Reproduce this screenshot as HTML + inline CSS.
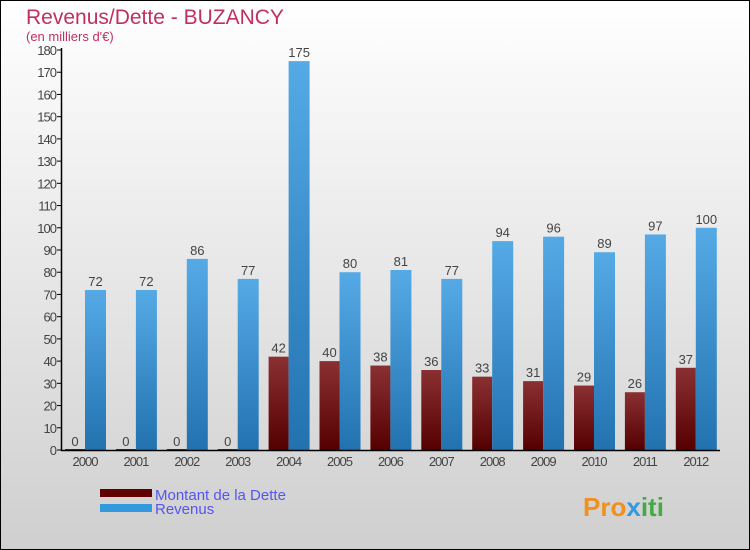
<!DOCTYPE html>
<html><head><meta charset="utf-8"><style>
body{margin:0}
#c{width:750px;height:550px;position:relative;overflow:hidden;font-family:"Liberation Sans",sans-serif}
</style></head><body>
<div id="c">
<svg id="s" width="750" height="550" xmlns="http://www.w3.org/2000/svg">
<defs>
<linearGradient id="bg" x1="0" y1="0" x2="0" y2="1"><stop offset="0" stop-color="#ffffff"/><stop offset="1" stop-color="#cfcfcf"/></linearGradient>
<linearGradient id="gr" x1="0" y1="0" x2="0" y2="1"><stop offset="0" stop-color="#8a3033"/><stop offset="1" stop-color="#550000"/></linearGradient>
<linearGradient id="gb" x1="0" y1="0" x2="0" y2="1"><stop offset="0" stop-color="#55aae6"/><stop offset="1" stop-color="#2272b0"/></linearGradient>
</defs>
<rect x="0.5" y="0.5" width="749" height="549" fill="url(#bg)" stroke="#000"/>
<text x="26" y="24" font-size="21" fill="#c0305e">Revenus/Dette - BUZANCY</text>
<text x="26" y="41" font-size="13" fill="#c0305e">(en milliers d'€)</text>
<g id="g"></g>
<rect x="100" y="489" width="52" height="8" fill="#600000"/>
<rect x="100" y="504" width="52" height="8" fill="#3399dd"/>
<text x="155" y="500" font-size="15" fill="#5555ee">Montant de la Dette</text>
<text x="155" y="514" font-size="15" fill="#5555ee">Revenus</text>
<text x="583" y="516" font-size="26" font-weight="bold" fill="#f09020">Pro<tspan fill="#3399dd">x</tspan><tspan fill="#44aa44">iti</tspan></text>
</svg>
</div>
<script>
const years=["2000","2001","2002","2003","2004","2005","2006","2007","2008","2009","2010","2011","2012"];
const dette=[0,0,0,0,42,40,38,36,33,31,29,26,37];
const revenus=[72,72,86,77,175,80,81,77,94,96,89,97,100];
const ticks=[0,10,20,30,40,50,60,70,80,90,100,110,120,130,140,150,160,170,180];
const NS="http://www.w3.org/2000/svg",g=document.getElementById('g');
const y=v=>450-v*400/180, x=i=>85+i*50.9;
function mk(t,a,txt){const e=document.createElementNS(NS,t);for(const k in a)e.setAttribute(k,a[k]);if(txt!==undefined)e.textContent=txt;g.appendChild(e);return e;}
ticks.forEach(t=>{
 const l=mk('line',{x1:57,x2:62,y1:y(t),y2:y(t),stroke:'#000'});
 
 
 const tx=mk('text',{x:56,y:y(t)+5,'font-size':13,fill:'#444','text-anchor':'end','letter-spacing':'-1'},t);
 
 
});
years.forEach((yr,i)=>{
 const c=x(i);
 const r=mk('rect',{x:c-20,y:y(dette[i])-(dette[i]?0:1),width:20,height:Math.max(1,450-y(dette[i])),fill:'url(#gr)'});
 
 
 const b=mk('rect',{x:c,y:y(revenus[i]),width:21,height:450-y(revenus[i]),fill:'url(#gb)'});
 
 
 const t1=mk('text',{x:c-10,y:y(dette[i])-4,'font-size':13,fill:'#444','text-anchor':'middle'},dette[i]);
 
 
 const t2=mk('text',{x:c+10.5,y:y(revenus[i])-4,'font-size':13,fill:'#444','text-anchor':'middle'},revenus[i]);
 
 
 const xl=mk('text',{x:c,y:466,'font-size':13,fill:'#444','text-anchor':'middle','letter-spacing':'-1'},yr);
 
 
});
const ax=mk('line',{x1:61.5,x2:61.5,y1:48,y2:451,stroke:'#000','stroke-width':1.5});


const xa=mk('line',{x1:61,x2:720,y1:450.5,y2:450.5,stroke:'#000','stroke-width':1.5});


</script>
</body></html>
